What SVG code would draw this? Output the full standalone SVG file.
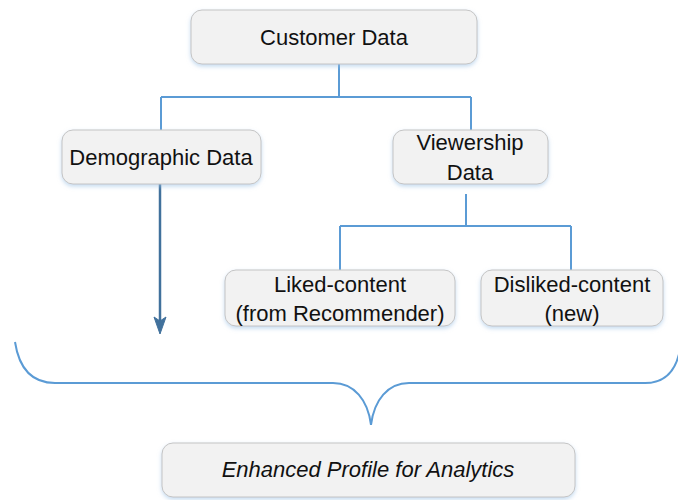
<svg xmlns="http://www.w3.org/2000/svg" width="678" height="500" viewBox="0 0 678 500">
  <style>
    .box { fill: #F2F2F2; stroke: #C4C4C4; stroke-width: 1; filter: url(#shadow); }
    .lbl { font-family: "Liberation Sans", Arial, sans-serif; font-size: 22px; fill: #111; text-anchor: middle; }
    .it { font-style: italic; }
    .conn { fill: none; stroke: #5B9BD5; stroke-width: 2; }
    .arrow { fill: none; stroke: #41719C; stroke-width: 2.5; }
  </style>
  <defs>
    <filter id="shadow" x="-10%" y="-20%" width="120%" height="150%">
      <feDropShadow dx="0" dy="2" stdDeviation="2" flood-color="#9DC3E6" flood-opacity="0.6"/>
    </filter>
  </defs>

  <!-- connectors -->
  <g id="connectors">
    <path class="conn" d="M339 64 V97 M161 97 H471 M161 97 V130 M471 97 V144"/>
    <path class="conn" d="M466 194 V226 M340 226 H571 M340 226 V270 M571 226 V270"/>
    <path class="arrow" d="M160 184 V326"/>
    <path d="M160 334 L154 317 L160 321 L166 317 Z" fill="#41719C" stroke="#41719C" stroke-width="1"/>
    <path class="conn" d="M15 342 C19 368 32 383 55 383 H333 C354 383 368 400 371 425 C374 400 388 383 409 383 H645 C662 383 674 374 679 354"/>
  </g>

  <g id="customer">
    <rect class="box" x="191" y="10" width="286" height="54" rx="11"/>
    <text class="lbl" x="334" y="45">Customer Data</text>
  </g>

  <g id="demographic">
    <rect class="box" x="62" y="130" width="199" height="54" rx="11"/>
    <text class="lbl" x="161" y="165">Demographic Data</text>
  </g>

  <g id="viewership">
    <rect class="box" x="393" y="130" width="155" height="54" rx="11"/>
    <text class="lbl" x="470" y="150">Viewership</text>
    <text class="lbl" x="470" y="180">Data</text>
  </g>

  <g id="liked">
    <rect class="box" x="225" y="270" width="230" height="56" rx="11"/>
    <text class="lbl" x="340" y="292">Liked-content</text>
    <text class="lbl" x="340" y="321">(from Recommender)</text>
  </g>

  <g id="disliked">
    <rect class="box" x="481" y="270" width="182" height="56" rx="11"/>
    <text class="lbl" x="572" y="292">Disliked-content</text>
    <text class="lbl" x="572" y="321">(new)</text>
  </g>

  <g id="enhanced">
    <rect class="box" x="162" y="443" width="413" height="54" rx="11"/>
    <text class="lbl it" x="368" y="477">Enhanced Profile for Analytics</text>
  </g>
</svg>
